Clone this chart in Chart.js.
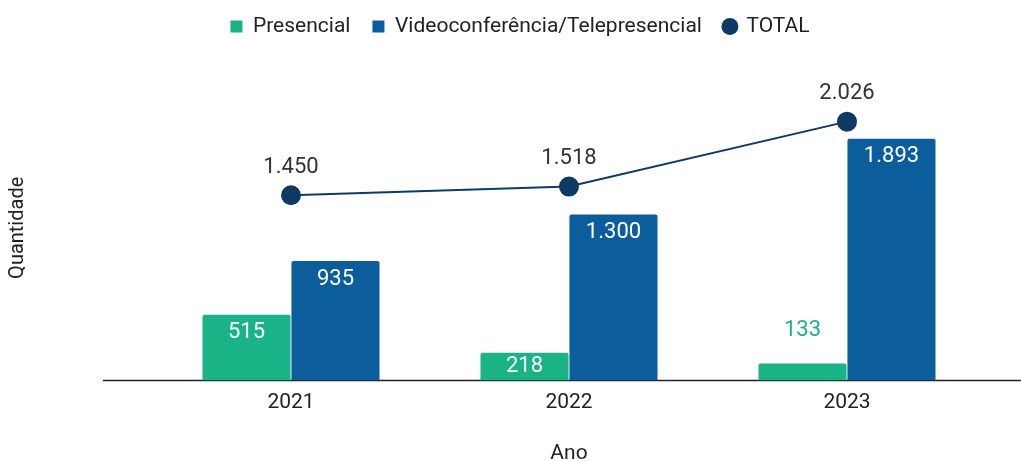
<!DOCTYPE html>
<html lang="pt">
<head>
  <meta charset="UTF-8" />
  <title>Quantidade por Ano</title>
  <script src="https://cdn.jsdelivr.net/npm/chart.js"></script>
  <style>
    html, body { margin: 0; padding: 0; background: #fff; }
    #wrap { width: 1021px; height: 461px; }
  </style>
</head>
<body>
  <div id="wrap"><canvas id="chart"></canvas></div>

  <script>
    const anos = ['2021', '2022', '2023'];
    const presencial = [515, 218, 133];
    const videoconferencia = [935, 1300, 1893];
    const total = [1450, 1518, 2026];

    const verde = '#19B385';
    const azul = '#0B5D9B';
    const marinho = '#0E3A66';

    function fmt(v) {
      return String(v).replace(/\B(?=(\d{3})+(?!\d))/g, '.');
    }

    // rótulos dos valores (sem plugin externo)
    const rotulos = {
      id: 'rotulos',
      afterDatasetsDraw(chart) {
        const ctx = chart.ctx;
        ctx.save();
        ctx.textAlign = 'center';
        ctx.textBaseline = 'middle';
        ctx.font = '22px Roboto';
        chart.data.datasets.forEach((ds, i) => {
          const meta = chart.getDatasetMeta(i);
          meta.data.forEach((el, j) => {
            const txt = fmt(ds.data[j]);
            if (ds.type === 'line') {
              ctx.fillStyle = '#333';
              ctx.fillText(txt, el.x, el.y - 28);
            } else {
              const h = el.base - el.y;
              if (h > 22) {
                ctx.fillStyle = '#fff';
                ctx.fillText(txt, el.x, el.y + Math.min(18, h / 2));
              } else {
                ctx.fillStyle = ds.backgroundColor;
                ctx.fillText(txt, el.x, el.y - 33);
              }
            }
          });
        });
        ctx.restore();
      }
    };

    // linha de base do eixo x (estendida) e título do eixo y
    const eixos = {
      id: 'eixos',
      beforeDatasetsDraw(chart) {
        const ctx = chart.ctx;
        const area = chart.chartArea;
        const y = chart.scales.y.getPixelForValue(0);
        ctx.save();
        ctx.strokeStyle = '#222';
        ctx.lineWidth = 1.5;
        ctx.beginPath();
        ctx.moveTo(area.left - 49, y);
        ctx.lineTo(chart.width, y);
        ctx.stroke();

        ctx.translate(area.left - 134, (area.top + area.bottom) / 2 + 14);
        ctx.rotate(-Math.PI / 2);
        ctx.textAlign = 'center';
        ctx.textBaseline = 'middle';
        ctx.fillStyle = '#222';
        ctx.font = '20px Roboto';
        ctx.fillText('Quantidade', 0, 0);
        ctx.restore();
      }
    };

    Chart.defaults.font.family = 'Roboto, "Liberation Sans", sans-serif';
    Chart.defaults.color = '#222';

    new Chart(document.getElementById('chart'), {
      data: {
        labels: anos,
        datasets: [
          {
            type: 'bar',
            label: 'Presencial',
            data: presencial,
            backgroundColor: verde,
            borderRadius: { topLeft: 2, topRight: 2 },
            borderSkipped: 'bottom',
            categoryPercentage: 0.64,
            barPercentage: 0.99,
            order: 1
          },
          {
            type: 'bar',
            label: 'Videoconferência/Telepresencial',
            data: videoconferencia,
            backgroundColor: azul,
            borderRadius: { topLeft: 2, topRight: 2 },
            borderSkipped: 'bottom',
            categoryPercentage: 0.64,
            barPercentage: 0.99,
            order: 1
          },
          {
            type: 'line',
            label: 'TOTAL',
            data: total,
            borderColor: marinho,
            backgroundColor: marinho,
            borderWidth: 2,
            pointRadius: 9,
            pointHoverRadius: 9,
            pointStyle: 'circle',
            tension: 0,
            order: 0
          }
        ]
      },
      options: {
        responsive: true,
        maintainAspectRatio: false,
        animation: false,
        layout: { padding: { left: 54, right: 35, top: -6, bottom: 0 } },
        plugins: {
          tooltip: { enabled: false },
          legend: {
            position: 'top',
            labels: {
              usePointStyle: true,
              boxWidth: 12,
              boxHeight: 12,
              padding: 22,
              font: { size: 21 },
              color: '#222',
              sort: (a, b) => a.datasetIndex - b.datasetIndex,
              generateLabels(chart) {
                const items = Chart.defaults.plugins.legend.labels.generateLabels(chart);
                items.forEach(it => {
                  it.pointStyle = it.datasetIndex === 2 ? 'circle' : 'rect';
                  it.lineWidth = 0;
                });
                return items;
              }
            }
          }
        },
        scales: {
          x: {
            grid: { display: false, drawTicks: false },
            border: { display: false },
            ticks: { font: { size: 21 }, color: '#222', padding: 10 },
            title: { display: true, text: 'Ano', font: { size: 21 }, color: '#222', padding: { top: 15, bottom: -5 } }
          },
          y: {
            min: 0,
            max: 2610,
            grid: { display: false, drawTicks: false },
            border: { display: false },
            ticks: { display: false },
            title: { display: false },
            afterFit(scale) { scale.width = 98; }
          }
        }
      },
      plugins: [eixos, rotulos]
    });
  </script>
</body>
</html>
